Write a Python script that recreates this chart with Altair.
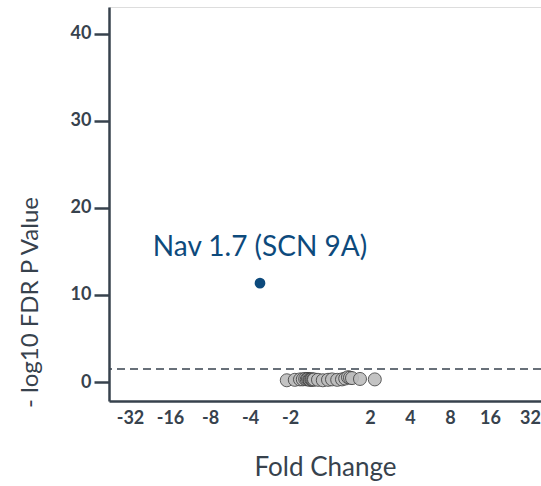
import altair as alt
import pandas as pd

# log2 fold change and -log10 FDR p for non-significant genes
gray_fc = [-1.08, -0.88, -0.75, -0.68, -0.62, -0.58, -0.55, -0.52, -0.5, -0.47, -0.45,
           -0.42, -0.4, -0.3, -0.18, -0.05, 0.05, 0.18, 0.3, 0.38, 0.45, 0.5, 0.55, 0.75, 1.12]
gray_p = [0.2, 0.25, 0.3, 0.3, 0.35, 0.3, 0.35, 0.3, 0.25, 0.3, 0.3,
          0.25, 0.3, 0.25, 0.2, 0.25, 0.3, 0.25, 0.3, 0.4, 0.55, 0.5, 0.45, 0.35, 0.3]

hit_name = ["Nav 1.7 (SCN 9A)"]
hit_fc = [-1.75]
hit_p = [11.35]

threshold = [1.5]
tick_vals = [-5, -4, -3, -2, -1, 1, 2, 3, 4, 5]

gray = pd.DataFrame({"fc": gray_fc, "p": gray_p})
hit = pd.DataFrame({"name": hit_name, "fc": hit_fc, "p": hit_p})
thr = pd.DataFrame({"t": threshold})

AX = "#37424d"
FONT = "Lato"

xscale = alt.Scale(domain=[-5.525, 5.275], nice=False, zero=False)
yscale = alt.Scale(domain=[-2.18, 43.05], nice=False, zero=False)

xaxis = alt.Axis(
    title="Fold Change", values=tick_vals,
    labelExpr="datum.value < 0 ? '-' + pow(2, -datum.value) : '' + pow(2, datum.value)",
    ticks=False, grid=False, domainColor=AX, domainWidth=2.5,
    labelFont=FONT, labelFontSize=18, labelFontWeight="bold", labelColor=AX,
    labelPadding=8, labelFlush=False, labelOverlap=False,
    titleFont=FONT, titleFontSize=26, titleFontWeight="normal", titleColor=AX,
    titleY=66, titleBaseline="middle",
)
yaxis = alt.Axis(
    title="- log10 FDR P Value", values=[0, 10, 20, 30, 40],
    tickSize=15, tickWidth=2.5, tickColor=AX, grid=False,
    domainColor=AX, domainWidth=2.5,
    labelFont=FONT, labelFontSize=18, labelFontWeight="bold", labelColor=AX,
    labelPadding=3,
    titleFont=FONT, titleFontSize=24, titleFontWeight="normal", titleColor=AX,
    titleX=-79, titleY=295, titleAngle=-90, titleAlign="center", titleBaseline="middle",
)

rule = alt.Chart(thr).mark_rule(color=AX, strokeDash=[8, 5], strokeWidth=1.5).encode(
    y=alt.Y("t:Q", scale=yscale, axis=yaxis)
)

pts = alt.Chart(gray).mark_circle(
    size=170, color="#bdbdbd", stroke="#3a3a3a", strokeWidth=0.9, opacity=0.9
).encode(
    x=alt.X("fc:Q", scale=xscale, axis=xaxis),
    y=alt.Y("p:Q", scale=yscale, axis=yaxis),
)

hit_pt = alt.Chart(hit).mark_circle(size=115, color="#0d4a7c", opacity=1).encode(
    x=alt.X("fc:Q", scale=xscale),
    y=alt.Y("p:Q", scale=yscale),
)

hit_lbl = alt.Chart(hit).mark_text(
    font=FONT, fontSize=28, color="#0d4a7c", dy=-35, align="center", baseline="middle"
).encode(
    x=alt.X("fc:Q", scale=xscale),
    y=alt.Y("p:Q", scale=yscale),
    text="name:N",
)

chart = alt.layer(rule, pts, hit_pt, hit_lbl).properties(
    width=432, height=394,
    autosize=alt.AutoSizeParams(type="none"),
    padding={"left": 109, "top": 7, "right": 0, "bottom": 85},
).configure_view(stroke=None).configure(background="white")

chart.save("out.html", embed_options={"renderer": "svg", "actions": False})
